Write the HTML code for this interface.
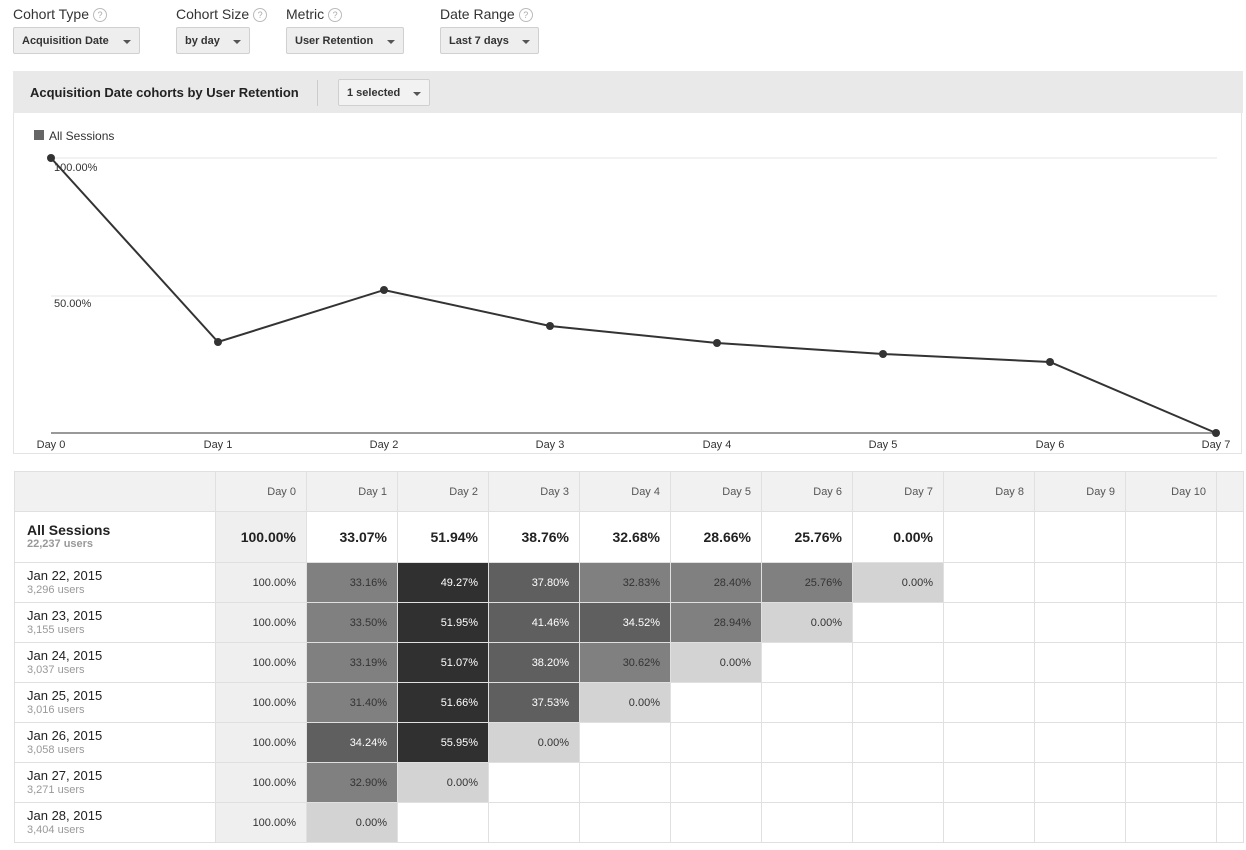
<!DOCTYPE html>
<html><head><meta charset="utf-8"><style>
body{margin:0;width:1246px;height:850px;background:#fff;font-family:"Liberation Sans",Arial,sans-serif;color:#222;position:relative;overflow:hidden}
.lbl{position:absolute;top:6px;font-size:14px;color:#333}
.q{display:inline-block;width:12px;height:12px;border:1px solid #bbb;border-radius:50%;font-size:9px;color:#aaa;text-align:center;line-height:12px;vertical-align:1px;margin-left:4px}
.dd{position:absolute;top:27px;height:27px;background:#eee;border:1px solid #d0d0d0;border-radius:2px;font-size:11px;font-weight:bold;color:#333;line-height:27px;padding-left:8px;box-sizing:border-box}
.dd:after{content:"";position:absolute;right:8px;top:12px;border:4px solid transparent;border-top:4px solid #555}
table{position:absolute;left:14px;top:471px;border-collapse:collapse;table-layout:fixed;font-size:11px}
td{border:1px solid #e0e0e0;text-align:right;padding:0 10px 0 0;height:39px;color:#333;white-space:nowrap}
tr.h td{background:#f1f1f1;color:#555;height:39px}
tr.t td{height:50px;font-size:14px;font-weight:bold;color:#222}
td.f{text-align:left;padding-left:12px;font-size:13px;color:#222;line-height:14px}
td.f small{display:block;font-size:11px;color:#999}
td.z{background:#efefef}
.m{background:#808080}.md{background:#5f5f5f;color:#fff}.d{background:#303030;color:#fff}.l{background:#d3d3d3}
</style></head><body>
<div class="lbl" style="left:13px">Cohort Type<span class="q">?</span></div>
<div class="lbl" style="left:176px">Cohort Size<span class="q">?</span></div>
<div class="lbl" style="left:286px">Metric<span class="q">?</span></div>
<div class="lbl" style="left:440px">Date Range<span class="q">?</span></div>
<div class="dd" style="left:13px;width:127px">Acquisition Date</div>
<div class="dd" style="left:176px;width:74px">by day</div>
<div class="dd" style="left:286px;width:118px">User Retention</div>
<div class="dd" style="left:440px;width:99px">Last 7 days</div>

<div style="position:absolute;left:13px;top:71px;width:1229px;height:383px;border:1px solid #e4e4e4;border-top:none;box-sizing:border-box"></div>
<div style="position:absolute;left:13px;top:71px;width:1230px;height:42px;background:#e9e9e9"></div>
<div style="position:absolute;left:30px;top:85px;font-size:13px;font-weight:bold;color:#222">Acquisition Date cohorts by User Retention</div>
<div style="position:absolute;left:317px;top:80px;width:1px;height:26px;background:#ccc"></div>
<div class="dd" style="left:338px;top:79px;width:92px;background:#f2f2f2">1 selected</div>

<svg style="position:absolute;left:0;top:0" width="1246" height="460">
<rect x="34" y="130" width="10" height="10" fill="#666"/>
<text x="49" y="140" font-size="12" fill="#333" font-family="Liberation Sans">All Sessions</text>
<line x1="51" y1="158" x2="1217" y2="158" stroke="#e6e6e6"/>
<line x1="51" y1="296" x2="1217" y2="296" stroke="#e6e6e6"/>
<line x1="51" y1="433" x2="1217" y2="433" stroke="#333" stroke-width="1"/>
<g font-size="11" fill="#333" font-family="Liberation Sans">
<text x="54" y="171">100.00%</text><text x="54" y="307">50.00%</text>
<g text-anchor="middle"><text x="51" y="448">Day 0</text><text x="218" y="448">Day 1</text><text x="384" y="448">Day 2</text><text x="550" y="448">Day 3</text><text x="717" y="448">Day 4</text><text x="883" y="448">Day 5</text><text x="1050" y="448">Day 6</text><text x="1216" y="448">Day 7</text></g></g>
<polyline fill="none" stroke="#333" stroke-width="2" points="51,158 218,342 384,290 550,326 717,343 883,354 1050,362 1216,433"/>
<g fill="#333"><circle cx="51" cy="158" r="4"/><circle cx="218" cy="342" r="4"/><circle cx="384" cy="290" r="4"/><circle cx="550" cy="326" r="4"/><circle cx="717" cy="343" r="4"/><circle cx="883" cy="354" r="4"/><circle cx="1050" cy="362" r="4"/><circle cx="1216" cy="433" r="4"/></g>
</svg>

<table>
<colgroup><col style="width:201px"><col span="11" style="width:91px"><col style="width:27px"></colgroup>
<tr class="h"><td></td><td>Day 0</td><td>Day 1</td><td>Day 2</td><td>Day 3</td><td>Day 4</td><td>Day 5</td><td>Day 6</td><td>Day 7</td><td>Day 8</td><td>Day 9</td><td>Day 10</td><td></td></tr>
<tr class="t"><td class="f" style="font-size:14px;font-weight:bold">All Sessions<small style="font-weight:bold;font-size:11px">22,237 users</small></td><td class="z">100.00%</td><td>33.07%</td><td>51.94%</td><td>38.76%</td><td>32.68%</td><td>28.66%</td><td>25.76%</td><td>0.00%</td><td></td><td></td><td></td><td></td></tr>
<tr><td class="f">Jan 22, 2015<small>3,296 users</small></td><td class="z">100.00%</td><td class="m">33.16%</td><td class="d">49.27%</td><td class="md">37.80%</td><td class="m">32.83%</td><td class="m">28.40%</td><td class="m">25.76%</td><td class="l">0.00%</td><td></td><td></td><td></td><td></td></tr>
<tr><td class="f">Jan 23, 2015<small>3,155 users</small></td><td class="z">100.00%</td><td class="m">33.50%</td><td class="d">51.95%</td><td class="md">41.46%</td><td class="md">34.52%</td><td class="m">28.94%</td><td class="l">0.00%</td><td></td><td></td><td></td><td></td><td></td></tr>
<tr><td class="f">Jan 24, 2015<small>3,037 users</small></td><td class="z">100.00%</td><td class="m">33.19%</td><td class="d">51.07%</td><td class="md">38.20%</td><td class="m">30.62%</td><td class="l">0.00%</td><td></td><td></td><td></td><td></td><td></td><td></td></tr>
<tr><td class="f">Jan 25, 2015<small>3,016 users</small></td><td class="z">100.00%</td><td class="m">31.40%</td><td class="d">51.66%</td><td class="md">37.53%</td><td class="l">0.00%</td><td></td><td></td><td></td><td></td><td></td><td></td><td></td></tr>
<tr><td class="f">Jan 26, 2015<small>3,058 users</small></td><td class="z">100.00%</td><td class="md">34.24%</td><td class="d">55.95%</td><td class="l">0.00%</td><td></td><td></td><td></td><td></td><td></td><td></td><td></td><td></td></tr>
<tr><td class="f">Jan 27, 2015<small>3,271 users</small></td><td class="z">100.00%</td><td class="m">32.90%</td><td class="l">0.00%</td><td></td><td></td><td></td><td></td><td></td><td></td><td></td><td></td><td></td></tr>
<tr><td class="f">Jan 28, 2015<small>3,404 users</small></td><td class="z">100.00%</td><td class="l">0.00%</td><td></td><td></td><td></td><td></td><td></td><td></td><td></td><td></td><td></td><td></td></tr>
</table>
</body></html>
